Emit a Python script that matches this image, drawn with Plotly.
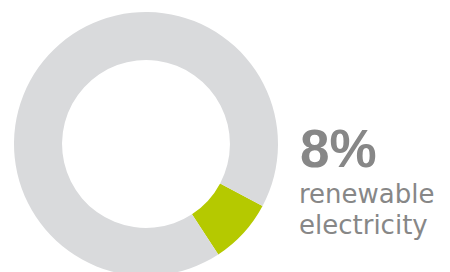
import plotly.graph_objects as go

labels = ["renewable electricity", "other"]
values = [8, 92]
colors = ["#b5c900", "#d9dadc"]
headline = "8%"
caption_lines = ["renewable", "electricity"]

W, H = 450, 288

fig = go.Figure(go.Pie(
    labels=labels, values=values, sort=False, direction="clockwise",
    rotation=118, hole=0.636, textinfo="none", hoverinfo="skip",
    marker=dict(colors=colors, line=dict(width=0)),
    domain=dict(x=[14 / W, 278 / W], y=[0, 1]),
    showlegend=False,
))

def py(px):
    return 1 - px / H

fig.add_annotation(text="<b>" + headline + "</b>", x=300 / W, y=py(178), xref="paper", yref="paper",
                   xanchor="left", yanchor="bottom", showarrow=False, borderpad=0, borderwidth=0,
                   font=dict(family="Liberation Sans", size=53, color="#878787"))
for i, line in enumerate(caption_lines):
    fig.add_annotation(text=line, x=299 / W, y=py(209 + 31 * i), xref="paper", yref="paper",
                       xanchor="left", yanchor="bottom", showarrow=False, borderpad=0, borderwidth=0,
                       font=dict(family="DejaVu Sans", size=26, color="#878787"))

fig.update_layout(width=W, height=H, margin=dict(l=0, r=0, t=0, b=0),
                  paper_bgcolor="white", plot_bgcolor="white")

fig.write_html("out.html", config={"displayModeBar": False}, post_script=(
    "document.body.style.margin='0';"
    "document.body.style.overflow='hidden';"
    "document.documentElement.style.overflow='hidden';"))
